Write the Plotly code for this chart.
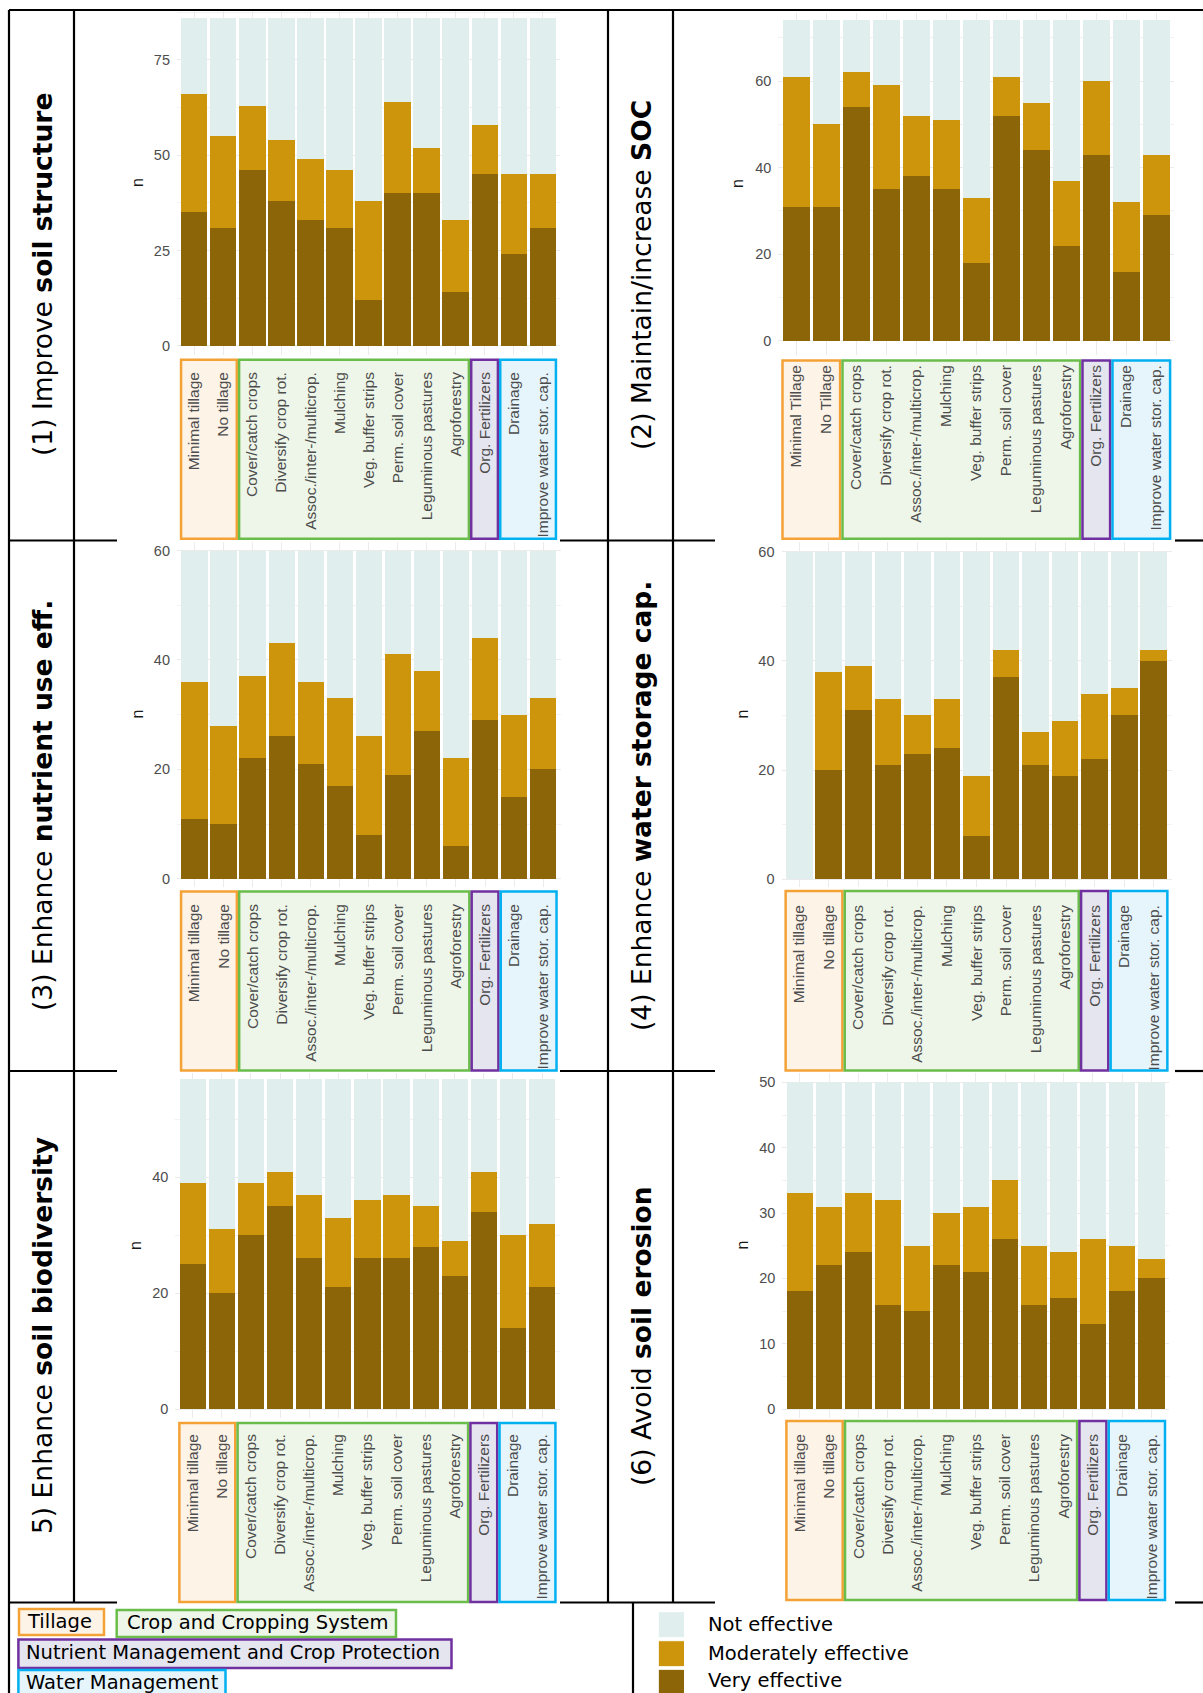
import plotly.graph_objects as go

W, H = 1203, 1693

# ---- practices (x categories) ----
practices = [
    "Minimal tillage", "No tillage", "Cover/catch crops", "Diversify crop rot.",
    "Assoc./inter-/multicrop.", "Mulching", "Veg. buffer strips", "Perm. soil cover",
    "Leguminous pastures", "Agroforestry", "Org. Fertilizers", "Drainage",
    "Improve water stor. cap.",
]
practices_soc = ["Minimal Tillage", "No Tillage"] + practices[2:]

# ---- counts per objective: very / moderately / not effective ----
structure_very = [35, 31, 46, 38, 33, 31, 12, 40, 40, 14, 45, 24, 31]
structure_moderate = [31, 24, 17, 16, 16, 15, 26, 24, 12, 19, 13, 21, 14]
structure_not = [20, 31, 23, 32, 37, 40, 48, 22, 34, 53, 28, 41, 41]

soc_very = [31, 31, 54, 35, 38, 35, 18, 52, 44, 22, 43, 16, 29]
soc_moderate = [30, 19, 8, 24, 14, 16, 15, 9, 11, 15, 17, 16, 14]
soc_not = [13, 24, 12, 15, 22, 23, 41, 13, 19, 37, 14, 42, 31]

nutrient_very = [11, 10, 22, 26, 21, 17, 8, 19, 27, 6, 29, 15, 20]
nutrient_moderate = [25, 18, 15, 17, 15, 16, 18, 22, 11, 16, 15, 15, 13]
nutrient_not = [24, 32, 23, 17, 24, 27, 34, 19, 22, 38, 16, 30, 27]

water_very = [0, 20, 31, 21, 23, 24, 8, 37, 21, 19, 22, 30, 40]
water_moderate = [0, 18, 8, 12, 7, 9, 11, 5, 6, 10, 12, 5, 2]
water_not = [60, 22, 21, 27, 30, 27, 41, 18, 33, 31, 26, 25, 18]

biodiv_very = [25, 20, 30, 35, 26, 21, 26, 26, 28, 23, 34, 14, 21]
biodiv_moderate = [14, 11, 9, 6, 11, 12, 10, 11, 7, 6, 7, 16, 11]
biodiv_not = [18, 26, 18, 16, 20, 24, 21, 20, 22, 28, 16, 27, 25]

erosion_very = [18, 22, 24, 16, 15, 22, 21, 26, 16, 17, 13, 18, 20]
erosion_moderate = [15, 9, 9, 16, 10, 8, 10, 9, 9, 7, 13, 7, 3]
erosion_not = [17, 19, 17, 18, 25, 20, 19, 15, 25, 26, 24, 25, 27]

levels = ["Not effective", "Moderately effective", "Very effective"]
level_colors = {"Not effective": "#E0EEEE",
                "Moderately effective": "#CD950C",
                "Very effective": "#8B6508"}

# practice groups: (label, first index, last index, border, fill)
groups = [
    ("Tillage", 0, 1, "#F4A236", "#FDF3E7"),
    ("Crop and Cropping System", 2, 9, "#6ABD4B", "#EDF6E8"),
    ("Nutrient Management and Crop Protection", 10, 10, "#7030A0", "#E5E5F0"),
    ("Water Management", 11, 12, "#00B0F0", "#E6F5FC"),
]

# panel geometry in pixels
panels = [
    dict(title="(1) Improve <b>soil structure</b>", cats=practices,
         data=(structure_very, structure_moderate, structure_not),
         left=177, right=560, zero=345.8, unit=3.813, top=11, bottom=355,
         dtick=25, box=(359.7, 538.8), tx=42, ty=275, nx=137, gap=13),
    dict(title="(2) Maintain/increase <b>SOC</b>", cats=practices_soc,
         data=(soc_very, soc_moderate, soc_not),
         left=778.3, right=1174.3, zero=340.8, unit=4.33, top=13, bottom=355,
         dtick=20, box=(360.4, 538.8), tx=641, ty=275, nx=737, gap=6),
    dict(title="(3) Enhance <b>nutrient use eff.</b>", cats=practices,
         data=(nutrient_very, nutrient_moderate, nutrient_not),
         left=177, right=560.6, zero=878.7, unit=5.47, top=542, bottom=887,
         dtick=20, box=(891.4, 1070.5), tx=42, ty=806, nx=137, gap=13),
    dict(title="(4) Enhance <b>water storage cap.</b>", cats=practices,
         data=(water_very, water_moderate, water_not),
         left=781.5, right=1171.5, zero=879.4, unit=5.465, top=542, bottom=887,
         dtick=20, box=(891, 1070.5), tx=641, ty=806, nx=742, gap=14),
    dict(title="5) Enhance <b>soil biodiversity</b>", cats=practices,
         data=(biodiv_very, biodiv_moderate, biodiv_not),
         left=175.3, right=559.5, zero=1409.1, unit=5.795, top=1073, bottom=1418,
         dtick=20, box=(1423, 1602), tx=42, ty=1336, nx=135.5, gap=12),
    dict(title="(6) Avoid <b>soil erosion</b>", cats=practices,
         data=(erosion_very, erosion_moderate, erosion_not),
         left=782.3, right=1169.1, zero=1409.1, unit=6.534, top=1073, bottom=1418,
         dtick=10, box=(1421, 1600), tx=641, ty=1336, nx=742, gap=12),
]


def fx(px):
    return px / W


def fy(py):
    return 1 - py / H


fig = go.Figure()
shapes = []
annotations = []
layout_axes = {}

tick_font = dict(family="Liberation Sans, Arial, sans-serif", size=15.5, color="#4D4D4D")
grid = "#EBEBEB"

for i, p in enumerate(panels, start=1):
    xs = "x" if i == 1 else f"x{i}"
    ys = "y" if i == 1 else f"y{i}"
    very, moderate, not_eff = p["data"]
    for name, vals in (("Very effective", very),
                       ("Moderately effective", moderate),
                       ("Not effective", not_eff)):
        fig.add_trace(go.Bar(
            x=p["cats"], y=vals, name=name, xaxis=xs, yaxis=ys,
            marker=dict(color=level_colors[name], line=dict(width=0)),
            showlegend=False, hoverinfo="x+y+name",
        ))

    y_lo = (p["zero"] - p["bottom"]) / p["unit"]
    y_hi = (p["zero"] - p["top"]) / p["unit"]
    layout_axes["xaxis" if i == 1 else f"xaxis{i}"] = dict(
        domain=[fx(p["left"]), fx(p["right"])], anchor=ys,
        type="category", categoryorder="array", categoryarray=p["cats"],
        range=[-0.6, len(p["cats"]) - 0.4], tickangle=-90,
        showgrid=True, gridcolor=grid, gridwidth=1, zeroline=False,
        showline=False, ticks="", tickfont=tick_font,
        ticklabelstandoff=p["gap"], automargin=False, fixedrange=True,
    )
    layout_axes["yaxis" if i == 1 else f"yaxis{i}"] = dict(
        domain=[fy(p["bottom"]), fy(p["top"])], anchor=xs,
        range=[y_lo, y_hi], tick0=0, dtick=p["dtick"],
        showgrid=True, gridcolor=grid, gridwidth=1, zeroline=False,
        showline=False, ticks="",
        minor=dict(dtick=p["dtick"] / 2, tick0=0, showgrid=True,
                   gridcolor="#F2F2F2", gridwidth=1),
        tickfont=dict(family="Liberation Sans, Arial, sans-serif", size=14.5,
                      color="#4D4D4D"),
        ticklabelstandoff=6, automargin=False, fixedrange=True,
    )

    # coloured frames grouping the practice labels
    b_top, b_bot = p["box"]
    for _, first, last, border, fill in groups:
        shapes.append(dict(
            type="rect", xref=xs, yref="paper", layer="below",
            x0=first - 0.46, x1=last + 0.46, y0=fy(b_bot), y1=fy(b_top),
            line=dict(color=border, width=2.5), fillcolor=fill,
        ))

    # y axis title
    annotations.append(dict(
        x=fx(p["nx"]), y=fy((p["top"] + p["bottom"]) / 2), xref="paper", yref="paper",
        text="n", showarrow=False, textangle=-90, xanchor="center", yanchor="middle",
        font=dict(family="Liberation Sans, Arial, sans-serif", size=16, color="#1A1A1A"),
    ))
    # row title in the left column of the table
    annotations.append(dict(
        x=fx(p["tx"]), y=fy(p["ty"]), xref="paper", yref="paper",
        text=p["title"], showarrow=False, textangle=-90,
        xanchor="center", yanchor="middle",
        font=dict(family="DejaVu Sans, sans-serif", size=26.5, color="black"),
    ))

# ---- table rules ----
def hline(y, x0, x1):
    shapes.append(dict(type="line", xref="paper", yref="paper", layer="above",
                       x0=fx(x0), x1=fx(x1), y0=fy(y), y1=fy(y),
                       line=dict(color="black", width=2.2)))


def vline(x, y0, y1):
    shapes.append(dict(type="line", xref="paper", yref="paper", layer="above",
                       x0=fx(x), x1=fx(x), y0=fy(y0), y1=fy(y1),
                       line=dict(color="black", width=2.2)))


hline(10, 9, W)
for yy in (540.5, 1071, 1602.5):
    hline(yy, 9, 117)
    hline(yy, 560, 715)
    hline(yy, 1175, W)
vline(9, 10, H)
vline(74, 10, 1602.5)
vline(608, 10, 1602.5)
vline(673, 10, 1602.5)
vline(633, 1602.5, H)

# ---- group key (bottom left) ----
legend_font = dict(family="DejaVu Sans, sans-serif", size=19.5, color="black")
group_key = [
    (groups[0], (19, 104, 1609, 1635), (25, 1621)),
    (groups[1], (116.7, 396, 1610, 1637), (125, 1622)),
    (groups[2], (18.4, 451.5, 1639.5, 1668), (24, 1652)),
    (groups[3], (18.4, 225.5, 1670, 1700), (24, 1682)),
]
for (label, _, _, border, fill), (x0, x1, y0, y1), (tx, ty) in group_key:
    shapes.append(dict(type="rect", xref="paper", yref="paper", layer="below",
                       x0=fx(x0), x1=fx(x1), y0=fy(y1), y1=fy(y0),
                       line=dict(color=border, width=2.5), fillcolor=fill))
    annotations.append(dict(x=fx(tx), y=fy(ty), xref="paper", yref="paper",
                            text=label, showarrow=False, xanchor="left",
                            yanchor="middle", font=legend_font))

# ---- effectiveness key (bottom right) ----
key_rows = [("Not effective", 1611.7, 1637.7),
            ("Moderately effective", 1640.7, 1666.7),
            ("Very effective", 1669.3, 1695)]
for name, y0, y1 in key_rows:
    shapes.append(dict(type="rect", xref="paper", yref="paper", layer="below",
                       x0=fx(658.3), x1=fx(684.5), y0=fy(y1), y1=fy(y0),
                       line=dict(color="white", width=1),
                       fillcolor=level_colors[name]))
    annotations.append(dict(x=fx(706), y=fy((y0 + min(y1, 1693.5)) / 2 - 0.5),
                            xref="paper", yref="paper", text=name,
                            showarrow=False, xanchor="left", yanchor="middle",
                            font=legend_font))

fig.update_layout(
    width=W, height=H, autosize=False,
    margin=dict(l=0, r=0, t=0, b=0, pad=0),
    paper_bgcolor="white", plot_bgcolor="white",
    barmode="stack", bargap=0.1,
    font=dict(family="Liberation Sans, Arial, sans-serif"),
    showlegend=False,
    shapes=shapes, annotations=annotations,
    **layout_axes,
)

fig.write_html("out.html", config={"displayModeBar": False})
